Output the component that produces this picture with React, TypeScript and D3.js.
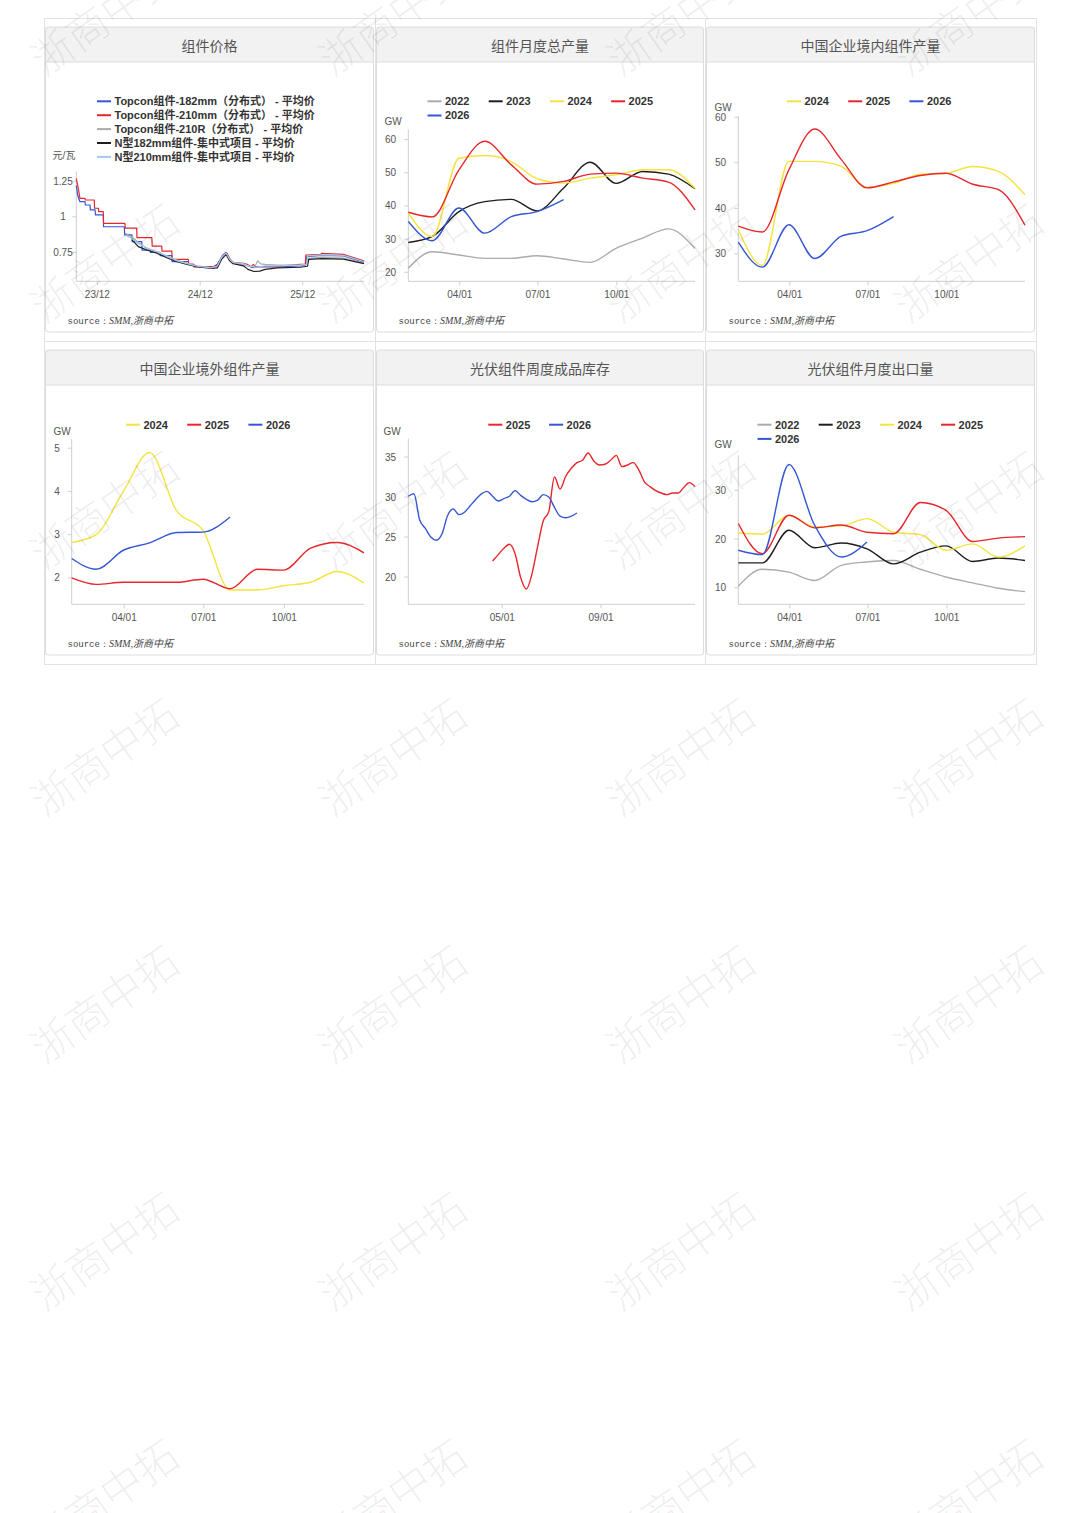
import React from "react";
import * as d3 from "d3";

const LATIN = "'Liberation Sans', Arial, 'Noto Sans CJK SC', sans-serif";
const CJK = "'Noto Sans CJK SC', 'Noto Sans', sans-serif";

const RED = "#e8262b";
const BLUE = "#3457d5";
const YELLOW = "#f4e43c";
const BLACK = "#1e1e1e";
const GRAY = "#ababab";
const LIGHT = "#a3c6ec";

// ---------- titles ----------
const TITLES = ["组件价格", "组件月度总产量", "中国企业境内组件产量", "中国企业境外组件产量", "光伏组件周度成品库存", "光伏组件月度出口量"];
const SOURCE_PREFIX = "source：";
const SOURCE_TEXT = "SMM,浙商中拓";
const WATERMARK = "浙商中拓";

// ---------- panel 1 : price ----------
const PRICE_NAMES = [
  "Topcon组件-182mm（分布式） - 平均价",
  "Topcon组件-210mm（分布式） - 平均价",
  "Topcon组件-210R（分布式） - 平均价",
  "N型182mm组件-集中式项目 - 平均价",
  "N型210mm组件-集中式项目 - 平均价",
];
const PRICE_UNIT = "元/瓦";
const priceTopcon182: [string, number][] = [
  ["2023-09-17", 1.22], ["2023-09-22", 1.15], ["2023-09-30", 1.106], ["2023-10-18", 1.106], ["2023-10-19", 1.083],
  ["2023-11-05", 1.083], ["2023-11-06", 1.048], ["2023-11-23", 1.048], ["2023-11-24", 1.013], ["2023-12-22", 1.013],
  ["2023-12-23", 0.93], ["2024-03-06", 0.93], ["2024-03-07", 0.872], ["2024-04-02", 0.872], ["2024-04-03", 0.825],
  ["2024-05-07", 0.825], ["2024-05-08", 0.766], ["2024-06-06", 0.766], ["2024-06-07", 0.75], ["2024-07-11", 0.75],
  ["2024-07-12", 0.726], ["2024-08-22", 0.726], ["2024-08-23", 0.684], ["2024-10-20", 0.684], ["2024-10-21", 0.665],
  ["2024-11-08", 0.665], ["2024-11-09", 0.649], ["2025-01-17", 0.649], ["2025-01-31", 0.665], ["2025-02-19", 0.73],
  ["2025-03-03", 0.75], ["2025-03-16", 0.70], ["2025-03-28", 0.675], ["2025-05-04", 0.668], ["2025-05-20", 0.655],
  ["2025-06-05", 0.642], ["2025-06-20", 0.648], ["2025-09-01", 0.648], ["2025-11-22", 0.655], ["2025-12-12", 0.662],
  ["2025-12-15", 0.72], ["2026-02-06", 0.728], ["2026-04-25", 0.725], ["2026-07-07", 0.68],
];
const priceTopcon210: [string, number][] = [
  ["2023-09-17", 1.27], ["2023-09-24", 1.2], ["2023-09-30", 1.13], ["2023-10-18", 1.13], ["2023-10-19", 1.118],
  ["2023-11-20", 1.118], ["2023-11-21", 1.06], ["2023-12-05", 1.06], ["2023-12-06", 1.036], ["2023-12-22", 1.036],
  ["2023-12-23", 0.954], ["2024-03-08", 0.954], ["2024-03-09", 0.92], ["2024-04-19", 0.92], ["2024-04-20", 0.853],
  ["2024-06-12", 0.853], ["2024-06-13", 0.794], ["2024-07-17", 0.794], ["2024-07-18", 0.759], ["2024-08-22", 0.759],
  ["2024-08-23", 0.70], ["2024-10-20", 0.70], ["2024-10-21", 0.665], ["2024-11-08", 0.665], ["2024-11-09", 0.648],
  ["2025-01-17", 0.648], ["2025-01-31", 0.66], ["2025-02-19", 0.72], ["2025-03-06", 0.745], ["2025-03-18", 0.70],
  ["2025-03-28", 0.68], ["2025-05-04", 0.672], ["2025-05-17", 0.665], ["2025-06-01", 0.648], ["2025-06-08", 0.665],
  ["2025-06-15", 0.65], ["2025-09-01", 0.652], ["2025-11-22", 0.665], ["2025-12-10", 0.667], ["2025-12-12", 0.731],
  ["2026-02-03", 0.735], ["2026-02-06", 0.742], ["2026-04-25", 0.735], ["2026-07-07", 0.69],
];
const priceTopcon210R: [string, number][] = [
  ["2024-03-08", 0.884], ["2024-04-02", 0.86], ["2024-04-25", 0.82], ["2024-05-25", 0.775], ["2024-06-30", 0.752],
  ["2024-08-04", 0.722], ["2024-09-09", 0.695], ["2024-10-15", 0.672], ["2024-11-20", 0.655], ["2025-01-07", 0.642],
  ["2025-01-31", 0.648], ["2025-02-15", 0.71], ["2025-03-03", 0.74], ["2025-03-16", 0.695], ["2025-03-28", 0.675],
  ["2025-05-04", 0.665], ["2025-05-25", 0.65], ["2025-06-15", 0.655], ["2025-06-24", 0.69], ["2025-07-05", 0.668],
  ["2025-07-20", 0.665], ["2025-09-01", 0.66], ["2025-11-22", 0.66], ["2025-12-18", 0.665], ["2025-12-22", 0.708],
  ["2026-02-06", 0.715], ["2026-04-25", 0.71], ["2026-07-07", 0.675],
];
const priceN182: [string, number][] = [
  ["2024-04-02", 0.837], ["2024-04-25", 0.79], ["2024-05-25", 0.766], ["2024-06-30", 0.743], ["2024-08-04", 0.712],
  ["2024-09-09", 0.684], ["2024-10-15", 0.665], ["2024-11-20", 0.649], ["2025-01-07", 0.637], ["2025-01-31", 0.64],
  ["2025-02-15", 0.70], ["2025-03-03", 0.735], ["2025-03-16", 0.69], ["2025-03-28", 0.67], ["2025-05-04", 0.655],
  ["2025-05-20", 0.63], ["2025-06-10", 0.615], ["2025-07-01", 0.618], ["2025-07-20", 0.63], ["2025-09-01", 0.64],
  ["2025-11-22", 0.645], ["2025-12-18", 0.652], ["2025-12-22", 0.70], ["2026-02-06", 0.706], ["2026-04-25", 0.702],
  ["2026-07-07", 0.67],
];
const priceN210: [string, number][] = [
  ["2024-03-10", 0.87], ["2024-04-02", 0.85], ["2024-04-25", 0.81], ["2024-05-25", 0.782], ["2024-06-30", 0.755],
  ["2024-08-04", 0.725], ["2024-09-09", 0.69], ["2024-10-15", 0.67], ["2024-11-20", 0.652], ["2025-01-07", 0.64],
  ["2025-01-31", 0.652], ["2025-02-15", 0.715], ["2025-03-03", 0.745], ["2025-03-16", 0.70], ["2025-03-28", 0.678],
  ["2025-05-04", 0.67], ["2025-05-25", 0.652], ["2025-06-15", 0.645], ["2025-07-20", 0.655], ["2025-09-01", 0.655],
  ["2025-11-22", 0.66], ["2025-12-15", 0.665], ["2025-12-18", 0.725], ["2026-02-06", 0.732], ["2026-04-25", 0.728],
  ["2026-07-07", 0.685],
];
const PRICE_X_DOMAIN = ["2023-09-17", "2026-07-07"];
const PRICE_X_TICKS = ["2023-12-01", "2024-12-01", "2025-12-01"];
const PRICE_X_LABELS = ["23/12", "24/12", "25/12"];
const PRICE_Y_TICKS = [0.75, 1, 1.25];
const PRICE_Y_DOMAIN = [0.546, 1.32];

// ---------- monthly axes ----------
const MONTH_ENDS = ["2021-01-31", "2021-02-28", "2021-03-31", "2021-04-30", "2021-05-31", "2021-06-30",
  "2021-07-31", "2021-08-31", "2021-09-30", "2021-10-31", "2021-11-30", "2021-12-31"];
const MONTH_TICKS = ["2021-04-01", "2021-07-01", "2021-10-01"];
const MONTH_LABELS = ["04/01", "07/01", "10/01"];
const UNIT = "GW";

// ---------- panel 2 : total monthly output ----------
const total2022 = [21.2, 26.2, 25.2, 24.2, 24.2, 25.0, 24.0, 23.0, 27.2, 30.3, 33.1, 27.2];
const total2023 = [29.0, 30.8, 38.3, 41.3, 42.0, 38.5, 45.4, 53.2, 46.8, 50.4, 49.6, 45.2];
const total2024 = [37.8, 30.8, 54.4, 55.2, 53.4, 48.2, 46.9, 48.4, 49.4, 50.9, 50.9, 45.3];
const total2025 = [38.1, 36.7, 50.9, 59.5, 52.4, 46.6, 47.4, 49.6, 49.9, 48.4, 47.2, 38.8];
const total2026 = [35.3, 29.5, 39.4, 31.8, 36.8, 38.3, 41.9];
const TOTAL_Y_TICKS = [20, 30, 40, 50, 60];

// ---------- panel 3 : domestic output ----------
const domestic2024 = [35.3, 27.5, 50.3, 50.3, 49.2, 44.6, 45.5, 47.5, 47.7, 49.2, 48.1, 43.0];
const domestic2025 = [36.1, 34.8, 48.5, 57.4, 50.7, 44.5, 45.8, 47.2, 47.7, 45.3, 44.1, 36.3];
const domestic2026 = [32.6, 27.1, 36.4, 29.0, 33.9, 35.1, 38.2];
const DOMESTIC_Y_TICKS = [30, 40, 50, 60];

// ---------- panel 4 : overseas output ----------
const overseas2024 = [2.82, 3.0, 4.0, 4.9, 3.55, 3.1, 1.72, 1.72, 1.82, 1.9, 2.15, 1.88];
const overseas2025 = [2.0, 1.85, 1.9, 1.9, 1.9, 1.97, 1.75, 2.2, 2.18, 2.69, 2.82, 2.58];
const overseas2026 = [2.45, 2.2, 2.64, 2.81, 3.05, 3.06, 3.41];
const OVERSEAS_Y_TICKS = [2, 3, 4, 5];

// ---------- panel 5 : weekly inventory ----------
const WEEK_FIRST = "2025-01-04";
const INV_2025_START_WEEK = 15;
const inventory2025 = [22.0, 22.8, 23.6, 24.1, 22.9, 19.9, 18.5, 20.4, 23.8, 27.0, 28.2, 32.5, 31.0, 32.6, 33.6, 34.3,
  34.6, 35.5, 34.5, 34.0, 34.1, 34.6, 35.2, 33.8, 34.0, 34.3, 33.4, 31.9, 31.3, 30.8, 30.5, 30.3, 30.5, 30.5, 31.2, 31.8, 31.3];
const inventory2026 = [30.1, 30.4, 27.2, 26.1, 25.0, 24.6, 25.4, 27.7, 28.5, 27.8, 28.1, 28.9, 29.7, 30.4, 30.7, 30.1,
  29.5, 29.8, 30.1, 30.8, 30.2, 29.7, 29.4, 29.6, 30.3, 30.0, 28.7, 27.6, 27.4, 27.6, 28.0];
const INV_X_DOMAIN = ["2025-01-04", "2025-12-27"];
const INV_X_TICKS = ["2025-05-01", "2025-09-01"];
const INV_X_LABELS = ["05/01", "09/01"];
const INV_Y_TICKS = [20, 25, 30, 35];

// ---------- panel 6 : exports ----------
const export2022 = [10.3, 13.8, 13.2, 11.5, 14.6, 15.3, 15.6, 13.8, 12.2, 11.0, 9.9, 9.2];
const export2023 = [15.1, 15.1, 21.8, 18.2, 19.2, 18.0, 14.9, 17.3, 18.6, 15.4, 16.1, 15.6];
const export2024 = [21.3, 21.0, 24.9, 22.5, 22.7, 24.2, 21.4, 20.9, 17.7, 19.0, 16.3, 18.6];
const export2025 = [23.2, 17.0, 24.9, 22.3, 22.9, 21.4, 21.1, 27.5, 25.9, 19.5, 20.2, 20.5];
const export2026 = [17.7, 16.8, 35.3, 22.8, 16.3, 19.4];
const EXPORT_Y_TICKS = [10, 20, 30];

// ---------------------------------------------------------------
const parse = d3.timeParse("%Y-%m-%d");
const P = (s: string) => parse(s) as Date;

type Pt = [Date, number];
type Series = { name: string; color: string; pts: Pt[] };
type LegendCfg = { x0: number; y0: number; colStep: number; rowStep: number; perRow: number; swatch: number };
type ChartCfg = {
  left: number; right: number; top: number; bottom: number;
  xDomain: Date[]; xTicks: Date[]; xLabels: string[];
  yDomain: number[]; yTicks: number[]; yLabelAnchor: "middle" | "end"; yLabelX: number;
  yName: string; yNameX: number; yNameY: number;
  series: Series[]; curve: any; legend: LegendCfg; lineWidth: number;
};

const monthly = (vals: number[]): Pt[] => vals.map((v, i) => [P(MONTH_ENDS[i]), v]);
const dated = (arr: [string, number][]): Pt[] => arr.map(([d, v]) => [P(d), v]);
const weekly = (vals: number[], start: number): Pt[] =>
  vals.map((v, i) => [d3.timeDay.offset(P(WEEK_FIRST), 7 * (start + i)), v]);

function LineChart({ c }: { c: ChartCfg }) {
  const x = d3.scaleTime().domain(c.xDomain).range([c.left, c.right]);
  const y = d3.scaleLinear().domain(c.yDomain).range([c.bottom, c.top]);
  const line = d3.line<Pt>().x((d) => x(d[0])).y((d) => y(d[1])).curve(c.curve);
  const L = c.legend;
  return (
    <g>
      <line x1={c.left} x2={c.right} y1={c.bottom} y2={c.bottom} stroke="#cfcfcf" />
      <line x1={c.left} x2={c.left} y1={c.bottom} y2={c.top} stroke="#cfcfcf" />
      {c.yTicks.map((t) => (
        <g key={"y" + t}>
          <line x1={c.left - 4} x2={c.left} y1={y(t)} y2={y(t)} stroke="#cfcfcf" />
          <text x={c.yLabelX} y={y(t)} dy="0.35em" textAnchor={c.yLabelAnchor} fontSize={10} fill="#555" fontFamily={LATIN}>
            {String(t)}
          </text>
        </g>
      ))}
      {c.xTicks.map((t, i) => (
        <g key={"x" + i}>
          <line x1={x(t)} x2={x(t)} y1={c.bottom} y2={c.bottom + 4} stroke="#cfcfcf" />
          <text x={x(t)} y={c.bottom + 13.5} dy="0.35em" textAnchor="middle" fontSize={10} fill="#555" fontFamily={LATIN}>
            {c.xLabels[i]}
          </text>
        </g>
      ))}
      <text x={c.yNameX} y={c.yNameY} dy="0.35em" textAnchor="middle" fontSize={10} fill="#555" fontFamily={LATIN}>
        {c.yName}
      </text>
      {c.series.map((s) => (
        <path key={s.name} d={line(s.pts) || ""} fill="none" stroke={s.color} strokeWidth={c.lineWidth} strokeLinejoin="round" />
      ))}
      {c.series.map((s, i) => {
        const lx = L.x0 + (i % L.perRow) * L.colStep;
        const ly = L.y0 + Math.floor(i / L.perRow) * L.rowStep;
        return (
          <g key={"lg" + i}>
            <line x1={lx} x2={lx + L.swatch} y1={ly} y2={ly} stroke={s.color} strokeWidth={2} />
            <text x={lx + L.swatch + 3.5} y={ly} dy="0.35em" fontSize={11} fontWeight="bold" fill="#333" fontFamily={LATIN}>
              {s.name}
            </text>
          </g>
        );
      })}
    </g>
  );
}

const COLS = [44, 375, 705, 1036];
const ROWS = [18, 341, 664];

function Card({ col, row, title }: { col: number; row: number; title: string }) {
  const x = COLS[col] + 1.5;
  const w = COLS[col + 1] - COLS[col] - 3;
  const y = ROWS[row] + 9;
  const h = ROWS[row + 1] - ROWS[row] - 18;
  return (
    <g>
      <rect x={x} y={y} width={w} height={h} rx={3} fill="#fff" />
      <rect x={x} y={y} width={w} height={35} fill="#f2f2f2" />
      <line x1={x} x2={x + w} y1={y + 35} y2={y + 35} stroke="#dcdcdc" />
      <rect x={x} y={y} width={w} height={h} rx={3} fill="none" stroke="#dcdcdc" />
      <text x={x + w / 2} y={y + 19} dy="0.35em" textAnchor="middle" fontSize={14} fill="#555" fontFamily={CJK}>
        {title}
      </text>
      <text x={x + 22} y={y + 291} dy="0.35em" fill="#444">
        <tspan fontFamily="'Liberation Mono', monospace" fontSize={9}>{SOURCE_PREFIX}</tspan>
        <tspan fontFamily="'Liberation Serif', 'Noto Sans CJK SC', serif" fontStyle="italic" fontSize={10}>{SOURCE_TEXT}</tspan>
      </text>
    </g>
  );
}

export default function App() {
  const mCurve = d3.curveMonotoneX;
  const charts: ChartCfg[] = [
    {
      left: 76.3, right: 364, top: 171.3, bottom: 281.3,
      xDomain: PRICE_X_DOMAIN.map(P), xTicks: PRICE_X_TICKS.map(P), xLabels: PRICE_X_LABELS,
      yDomain: PRICE_Y_DOMAIN, yTicks: PRICE_Y_TICKS, yLabelAnchor: "middle", yLabelX: 63,
      yName: PRICE_UNIT, yNameX: 64, yNameY: 155,
      series: [
        { name: PRICE_NAMES[0], color: BLUE, pts: dated(priceTopcon182) },
        { name: PRICE_NAMES[1], color: RED, pts: dated(priceTopcon210) },
        { name: PRICE_NAMES[2], color: GRAY, pts: dated(priceTopcon210R) },
        { name: PRICE_NAMES[3], color: BLACK, pts: dated(priceN182) },
        { name: PRICE_NAMES[4], color: LIGHT, pts: dated(priceN210) },
      ],
      curve: d3.curveLinear, lineWidth: 1.2,
      legend: { x0: 97, y0: 101.3, colStep: 0, rowStep: 13.9, perRow: 1, swatch: 14 },
    },
    {
      left: 408.3, right: 695, top: 129.7, bottom: 281.3,
      xDomain: [P(MONTH_ENDS[0]), P(MONTH_ENDS[11])], xTicks: MONTH_TICKS.map(P), xLabels: MONTH_LABELS,
      yDomain: [17.28, 63], yTicks: TOTAL_Y_TICKS, yLabelAnchor: "end", yLabelX: 396,
      yName: UNIT, yNameX: 393, yNameY: 121.3,
      series: [
        { name: "2022", color: GRAY, pts: monthly(total2022) },
        { name: "2023", color: BLACK, pts: monthly(total2023) },
        { name: "2024", color: YELLOW, pts: monthly(total2024) },
        { name: "2025", color: RED, pts: monthly(total2025) },
        { name: "2026", color: BLUE, pts: monthly(total2026) },
      ],
      curve: mCurve, lineWidth: 1.4,
      legend: { x0: 427.5, y0: 101.3, colStep: 61.2, rowStep: 14.2, perRow: 4, swatch: 14 },
    },
    {
      left: 738.3, right: 1025, top: 116.3, bottom: 281.3,
      xDomain: [P(MONTH_ENDS[0]), P(MONTH_ENDS[11])], xTicks: MONTH_TICKS.map(P), xLabels: MONTH_LABELS,
      yDomain: [24, 60.2], yTicks: DOMESTIC_Y_TICKS, yLabelAnchor: "end", yLabelX: 726,
      yName: UNIT, yNameX: 723, yNameY: 107.3,
      series: [
        { name: "2024", color: YELLOW, pts: monthly(domestic2024) },
        { name: "2025", color: RED, pts: monthly(domestic2025) },
        { name: "2026", color: BLUE, pts: monthly(domestic2026) },
      ],
      curve: mCurve, lineWidth: 1.4,
      legend: { x0: 787, y0: 101.3, colStep: 61.2, rowStep: 14.2, perRow: 4, swatch: 14 },
    },
    {
      left: 71.7, right: 364, top: 438.7, bottom: 604.3,
      xDomain: [P(MONTH_ENDS[0]), P(MONTH_ENDS[11])], xTicks: MONTH_TICKS.map(P), xLabels: MONTH_LABELS,
      yDomain: [1.39, 5.22], yTicks: OVERSEAS_Y_TICKS, yLabelAnchor: "end", yLabelX: 59.7,
      yName: UNIT, yNameX: 62, yNameY: 431.3,
      series: [
        { name: "2024", color: YELLOW, pts: monthly(overseas2024) },
        { name: "2025", color: RED, pts: monthly(overseas2025) },
        { name: "2026", color: BLUE, pts: monthly(overseas2026) },
      ],
      curve: mCurve, lineWidth: 1.4,
      legend: { x0: 126, y0: 424.7, colStep: 61.2, rowStep: 14.2, perRow: 4, swatch: 14 },
    },
    {
      left: 408.3, right: 695, top: 438.7, bottom: 604.3,
      xDomain: INV_X_DOMAIN.map(P), xTicks: INV_X_TICKS.map(P), xLabels: INV_X_LABELS,
      yDomain: [16.59, 37.29], yTicks: INV_Y_TICKS, yLabelAnchor: "end", yLabelX: 396,
      yName: UNIT, yNameX: 392, yNameY: 431.3,
      series: [
        { name: "2025", color: RED, pts: weekly(inventory2025, INV_2025_START_WEEK) },
        { name: "2026", color: BLUE, pts: weekly(inventory2026, 0) },
      ],
      curve: mCurve, lineWidth: 1.4,
      legend: { x0: 488.3, y0: 424.7, colStep: 60.8, rowStep: 14.2, perRow: 4, swatch: 14 },
    },
    {
      left: 738.3, right: 1025, top: 455.3, bottom: 604.3,
      xDomain: [P(MONTH_ENDS[0]), P(MONTH_ENDS[11])], xTicks: MONTH_TICKS.map(P), xLabels: MONTH_LABELS,
      yDomain: [6.6, 37.2], yTicks: EXPORT_Y_TICKS, yLabelAnchor: "end", yLabelX: 726,
      yName: UNIT, yNameX: 723, yNameY: 444.7,
      series: [
        { name: "2022", color: GRAY, pts: monthly(export2022) },
        { name: "2023", color: BLACK, pts: monthly(export2023) },
        { name: "2024", color: YELLOW, pts: monthly(export2024) },
        { name: "2025", color: RED, pts: monthly(export2025) },
        { name: "2026", color: BLUE, pts: monthly(export2026) },
      ],
      curve: mCurve, lineWidth: 1.4,
      legend: { x0: 757.5, y0: 424.7, colStep: 61.2, rowStep: 14.2, perRow: 4, swatch: 14 },
    },
  ];

  const wmCols = [105, 393, 681, 969];
  const wmRows = [17, 264, 511, 758, 1005, 1252, 1499];

  return (
    <div style={{ position: "absolute", left: 0, top: 0, width: 1080, height: 1513, background: "#fff" }}>
      <svg width={1080} height={1513} style={{ display: "block" }}>
        <rect x={0} y={0} width={1080} height={1513} fill="#fff" />
        {[0, 1].map((r) =>
          [0, 1, 2].map((c) => (
            <rect key={`cell${r}${c}`} x={COLS[c] + 0.5} y={ROWS[r] + 0.5} width={COLS[c + 1] - COLS[c]} height={ROWS[r + 1] - ROWS[r]}
              fill="none" stroke="#e2e2e2" />
          ))
        )}
        {TITLES.map((t, i) => (
          <Card key={t} col={i % 3} row={Math.floor(i / 3)} title={t} />
        ))}
        {charts.map((c, i) => (
          <LineChart key={i} c={c} />
        ))}
        {wmRows.map((wy) =>
          wmCols.map((wx) => (
            <text key={`wm${wx}-${wy}`} x={wx} y={wy} dy="0.35em" textAnchor="middle" fontSize={42}
              fontFamily={CJK} fontWeight={300} fill="#000" fillOpacity={0.075}
              transform={`rotate(-35 ${wx} ${wy})`}>
              {WATERMARK}
            </text>
          ))
        )}
      </svg>
    </div>
  );
}
